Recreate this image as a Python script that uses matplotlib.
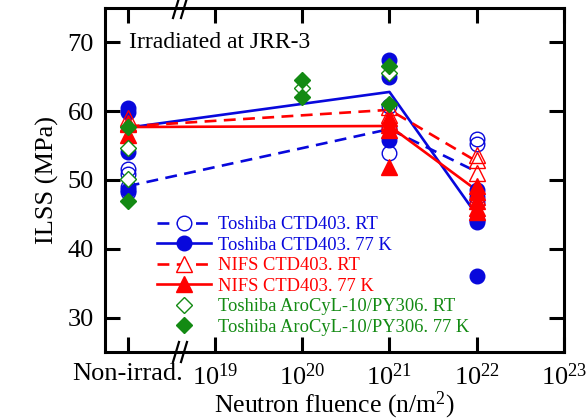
import matplotlib
matplotlib.use("Agg")
import matplotlib.pyplot as plt
from matplotlib.ticker import FixedLocator, FixedFormatter, NullLocator

plt.rcParams['font.family'] = ['Liberation Serif', 'DejaVu Serif']
plt.rcParams['mathtext.fontset'] = 'custom'
plt.rcParams['mathtext.rm'] = 'Liberation Serif'
plt.rcParams['mathtext.it'] = 'Liberation Serif:italic'

# ---------------- data ----------------
NON_IRRAD = 1e18  # plotting position used for the non-irradiated samples

blue_rt_x = [NON_IRRAD]*4 + [1e21]*3 + [1e22]*4
blue_rt_y = [51.6, 50.8, 49.0, 48.3, 60.7, 57.6, 53.9, 56.0, 55.3, 47.5, 46.8]
blue_77_x = [NON_IRRAD]*4 + [1e21]*3 + [1e22]*4
blue_77_y = [60.5, 59.9, 54.1, 48.6, 67.4, 65.0, 55.8, 48.5, 44.2, 43.9, 36.0]
red_rt_x = [NON_IRRAD]*2 + [1e21]*3 + [1e22]*4
red_rt_y = [59.0, 58.3, 60.6, 59.5, 58.5, 53.6, 52.9, 51.0, 47.5]
red_77_x = [NON_IRRAD]*2 + [1e21]*4 + [1e22]*5
red_77_y = [58.2, 56.6, 59.0, 58.0, 57.2, 51.9, 49.2, 48.2, 47.0, 46.0, 45.4]
green_rt_x = [NON_IRRAD]*2 + [1e20] + [1e21]
green_rt_y = [54.6, 50.1, 63.4, 65.6]
green_77_x = [NON_IRRAD]*2 + [1e20]*2 + [1e21]*2
green_77_y = [57.7, 46.9, 64.5, 62.1, 66.5, 61.1]

# average trend lines
line_x = [NON_IRRAD, 1e21, 1e22]
blue_rt_line = [49.1, 57.4, 51.2]
blue_77_line = [57.6, 62.8, 44.9]
red_rt_line = [57.8, 60.2, 52.7]
red_77_line = [57.7, 57.85, 48.5]

xtick_vals = [1e18, 1e19, 1e20, 1e21, 1e22, 1e23]
xtick_labels = ['Non-irrad.', '$10^{19}$', '$10^{20}$', '$10^{21}$', '$10^{22}$', '$10^{23}$']
ytick_vals = [30, 40, 50, 60, 70]

labels = ['Toshiba CTD403. RT', 'Toshiba CTD403. 77 K', 'NIFS CTD403. RT',
          'NIFS CTD403. 77 K', 'Toshiba AroCyL-10/PY306. RT', 'Toshiba AroCyL-10/PY306. 77 K']

BLUE = '#0808dc'
RED = '#ff0000'
GREEN = '#138a13'

# ---------------- figure ----------------
W, H = 587, 420
fig = plt.figure(figsize=(W/100, H/100), dpi=100)
L, R, T, B = 105, 564, 8, 352
ax = fig.add_axes([L/W, (H-B)/H, (R-L)/W, (B-T)/H])
ax.set_xscale('log')
ax.set_xlim(10**17.74, 1e23)
ax.set_ylim(25, 75)

lw = 1.9
dash = (0, (4.5, 2.8))
ax.plot(line_x, blue_rt_line, color=BLUE, lw=lw, ls=dash, zorder=2)
ax.plot(line_x, blue_77_line, color=BLUE, lw=lw, ls='-', zorder=2)
ax.plot(line_x, red_rt_line, color=RED, lw=lw, ls=dash, zorder=2)
ax.plot(line_x, red_77_line, color=RED, lw=lw, ls='-', zorder=2)

mew = 1.0
ax.plot(blue_rt_x, blue_rt_y, ls='none', marker='o', ms=10.5, mfc='none', mec=BLUE, mew=mew, zorder=3)
ax.plot(blue_77_x, blue_77_y, ls='none', marker='o', ms=10.5, mfc=BLUE, mec=BLUE, mew=mew, zorder=3)
ax.plot(red_rt_x, red_rt_y, ls='none', marker='^', ms=11, mfc='none', mec=RED, mew=mew, zorder=4)
ax.plot(red_77_x, red_77_y, ls='none', marker='^', ms=11, mfc=RED, mec=RED, mew=mew, zorder=4)
ax.plot(green_rt_x, green_rt_y, ls='none', marker='D', ms=8.5, mfc='white', mec=GREEN, mew=mew, zorder=5)
ax.plot(green_77_x, green_77_y, ls='none', marker='D', ms=8.5, mfc=GREEN, mec=GREEN, mew=mew, zorder=5)

# legend handles
h = []
h += ax.plot([], [], color=BLUE, lw=lw, ls=dash, marker='o', ms=10.5, mfc='white', mec=BLUE, mew=mew)
h += ax.plot([], [], color=BLUE, lw=lw, ls='-', marker='o', ms=10.5, mfc=BLUE, mec=BLUE, mew=mew)
h += ax.plot([], [], color=RED, lw=lw, ls=dash, marker='^', ms=11, mfc='white', mec=RED, mew=mew)
h += ax.plot([], [], color=RED, lw=lw, ls='-', marker='^', ms=11, mfc=RED, mec=RED, mew=mew)
h += ax.plot([], [], color=GREEN, ls='none', marker='D', ms=8.5, mfc='white', mec=GREEN, mew=mew)
h += ax.plot([], [], color=GREEN, ls='none', marker='D', ms=8.5, mfc=GREEN, mec=GREEN, mew=mew)
leg = ax.legend(h, labels, loc='upper left', bbox_to_anchor=((157-L)/(R-L), (B-216)/(B-T)),
                frameon=False, fontsize=13.3, numpoints=1, handlelength=2.9,
                handletextpad=0.4, labelspacing=0.19, borderaxespad=0, borderpad=0,
                labelcolor='linecolor')

ax.text((129-L)/(R-L), (B-43)/(B-T), 'Irradiated at JRR-3', transform=ax.transAxes,
        fontsize=17, va='center', ha='left')

# ticks
ax.xaxis.set_major_locator(FixedLocator(xtick_vals))
ax.xaxis.set_major_formatter(FixedFormatter(xtick_labels))
ax.xaxis.set_minor_locator(NullLocator())
ax.yaxis.set_major_locator(FixedLocator(ytick_vals))
ax.yaxis.set_minor_locator(NullLocator())
ax.tick_params(which='major', direction='in', length=11, width=2.2,
               top=True, right=True, labelsize=19)
ax.tick_params(axis='x', pad=8)
ax.tick_params(axis='y', pad=8)
for s in ax.spines.values():
    s.set_linewidth(2.2)

ax.set_xlabel('Neutron fluence (n/m$^2$)', fontsize=18.5, labelpad=0)
ax.set_ylabel('ILSS (MPa)', fontsize=19, labelpad=6)

# axis break marks
xw, yh = R-L, B-T
for xc in (176, 184):
    for yb in (0.0, 1.0):
        ax.plot([(xc-3-L)/xw, (xc+3-L)/xw], [yb-10/yh, yb+10/yh], color='black',
                lw=1.6, transform=ax.transAxes, clip_on=False, zorder=6)

fig.savefig('out.png', dpi=100)
